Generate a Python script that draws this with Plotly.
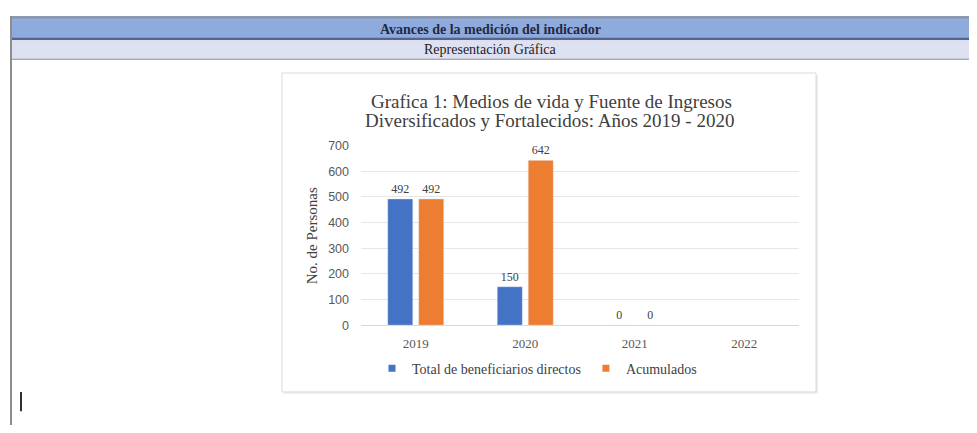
import plotly.graph_objects as go

# ---- data ----
years = ["2019", "2020", "2021", "2022"]
directos = [492, 150, 0, None]
acumulados = [492, 642, 0, None]
series_names = ["Total de beneficiarios directos", "Acumulados"]
series_colors = ["#4472C4", "#ED7D31"]
y_ticks = [0, 100, 200, 300, 400, 500, 600, 700]

header_text = "Avances de la medición del indicador"
subheader_text = "Representación Gráfica"
title_lines = ["Grafica 1: Medios de vida y Fuente de Ingresos",
               "Diversificados y Fortalecidos: Años 2019 - 2020"]
y_title = "No. de Personas"

# The page body keeps its default 8px margin, so the figure is 16px
# smaller than the window and page coordinates are shifted by 8px.
PAGE_W, PAGE_H = 977, 433
OFF = 8
W, H = PAGE_W - 2 * OFF, PAGE_H - 2 * OFF


def px(x):
    return (x - OFF) / W


def py(y):
    return 1 - (y - OFF) / H


SERIF = "Liberation Serif, Times New Roman, serif"
SANS = "Liberation Sans, Arial, sans-serif"

fig = go.Figure()

for name, vals, color in zip(series_names, [directos, acumulados], series_colors):
    fig.add_trace(go.Bar(
        x=years, y=vals, name=name, legendgroup=name, showlegend=False,
        marker=dict(color=color),
        text=[("" if v is None else str(v)) for v in vals],
        textposition="outside", cliponaxis=False,
        textfont=dict(family=SERIF, size=12, color="#404040"),
    ))

# legend entries with small square keys, as in the original chart
for name, color in zip(series_names, series_colors):
    fig.add_trace(go.Scatter(
        x=[None], y=[None], name=name, legendgroup=name, mode="markers",
        marker=dict(symbol="square", size=7, color=color),
        showlegend=True, hoverinfo="skip",
    ))

shapes = []


def rect(x0, y0, x1, y1, fill, line=None, lw=0):
    shapes.append(dict(
        type="rect", xref="paper", yref="paper",
        x0=px(x0), x1=px(x1), y0=py(y1), y1=py(y0),
        fillcolor=fill, line=dict(color=line or fill, width=lw),
        layer="below",
    ))


# document table header
rect(10, 9, 990, 13, "#8A9AB5")
rect(10, 13, 990, 32, "#8FAADC")
rect(10, 31.5, 990, 34, "#55648A")
rect(10, 34, 990, 53, "#DDE1F2")
rect(10, 53, 990, 54.5, "#A3A8B8")
rect(10, 9, 12, 440, "#8C8C8C")
# chart box with faint shadow
rect(284, 70, 818, 400, "#EDEDED")
rect(282, 68, 816, 398, "#FFFFFF", line="#DADADA", lw=1)
# text cursor
shapes.append(dict(type="line", xref="paper", yref="paper",
                   x0=px(21), x1=px(21), y0=py(418), y1=py(398),
                   line=dict(color="#303030", width=2), layer="above"))

annotations = [
    dict(text="<b>" + header_text + "</b>", x=px(490), y=py(22.5),
         xref="paper", yref="paper", showarrow=False,
         font=dict(family=SERIF, size=14, color="#1F2A44"),
         xanchor="center", yanchor="middle"),
    dict(text=subheader_text, x=px(490), y=py(43.5),
         xref="paper", yref="paper", showarrow=False,
         font=dict(family=SERIF, size=14, color="#222222"),
         xanchor="center", yanchor="middle"),
    dict(text=title_lines[0], x=px(551), y=py(97),
         xref="paper", yref="paper", showarrow=False,
         font=dict(family=SERIF, size=19, color="#404040"),
         xanchor="center", yanchor="middle"),
    dict(text=title_lines[1], x=px(549), y=py(117),
         xref="paper", yref="paper", showarrow=False,
         font=dict(family=SERIF, size=19, color="#404040"),
         xanchor="center", yanchor="middle"),
    dict(text=y_title, x=px(312), y=py(237),
         xref="paper", yref="paper", showarrow=False, textangle=-90,
         font=dict(family=SERIF, size=15, color="#404040"),
         xanchor="center", yanchor="middle"),
]

fig.update_layout(
    width=W, height=H,
    margin=dict(l=0, r=0, t=0, b=0),
    paper_bgcolor="white",
    plot_bgcolor="rgba(0,0,0,0)",
    barmode="group",
    bargap=0.434,
    bargroupgap=0.19,
    shapes=shapes,
    annotations=annotations,
    showlegend=True,
    legend=dict(
        orientation="h", x=px(537), xanchor="center",
        y=py(374), yanchor="middle",
        font=dict(family=SERIF, size=14, color="#404040"),
        bgcolor="rgba(0,0,0,0)", itemwidth=30,
    ),
    xaxis=dict(
        domain=[px(361), px(799)],
        categoryorder="array", categoryarray=years,
        showgrid=False, showline=True, linecolor="#D9D9D9", linewidth=1,
        ticks="", ticklabelstandoff=6,
        tickfont=dict(family=SERIF, size=13, color="#595959"),
        fixedrange=True,
    ),
    yaxis=dict(
        domain=[py(329), py(143)],
        range=[0, 700], tickvals=y_ticks,
        showgrid=True, gridcolor="#E6E6E6", gridwidth=1,
        zeroline=False, showline=False,
        ticks="", ticklabelstandoff=11,
        tickfont=dict(family=SANS, size=12.5, color="#595959"),
        fixedrange=True,
    ),
)

fig.write_html("out.html", config={"displayModeBar": False})
